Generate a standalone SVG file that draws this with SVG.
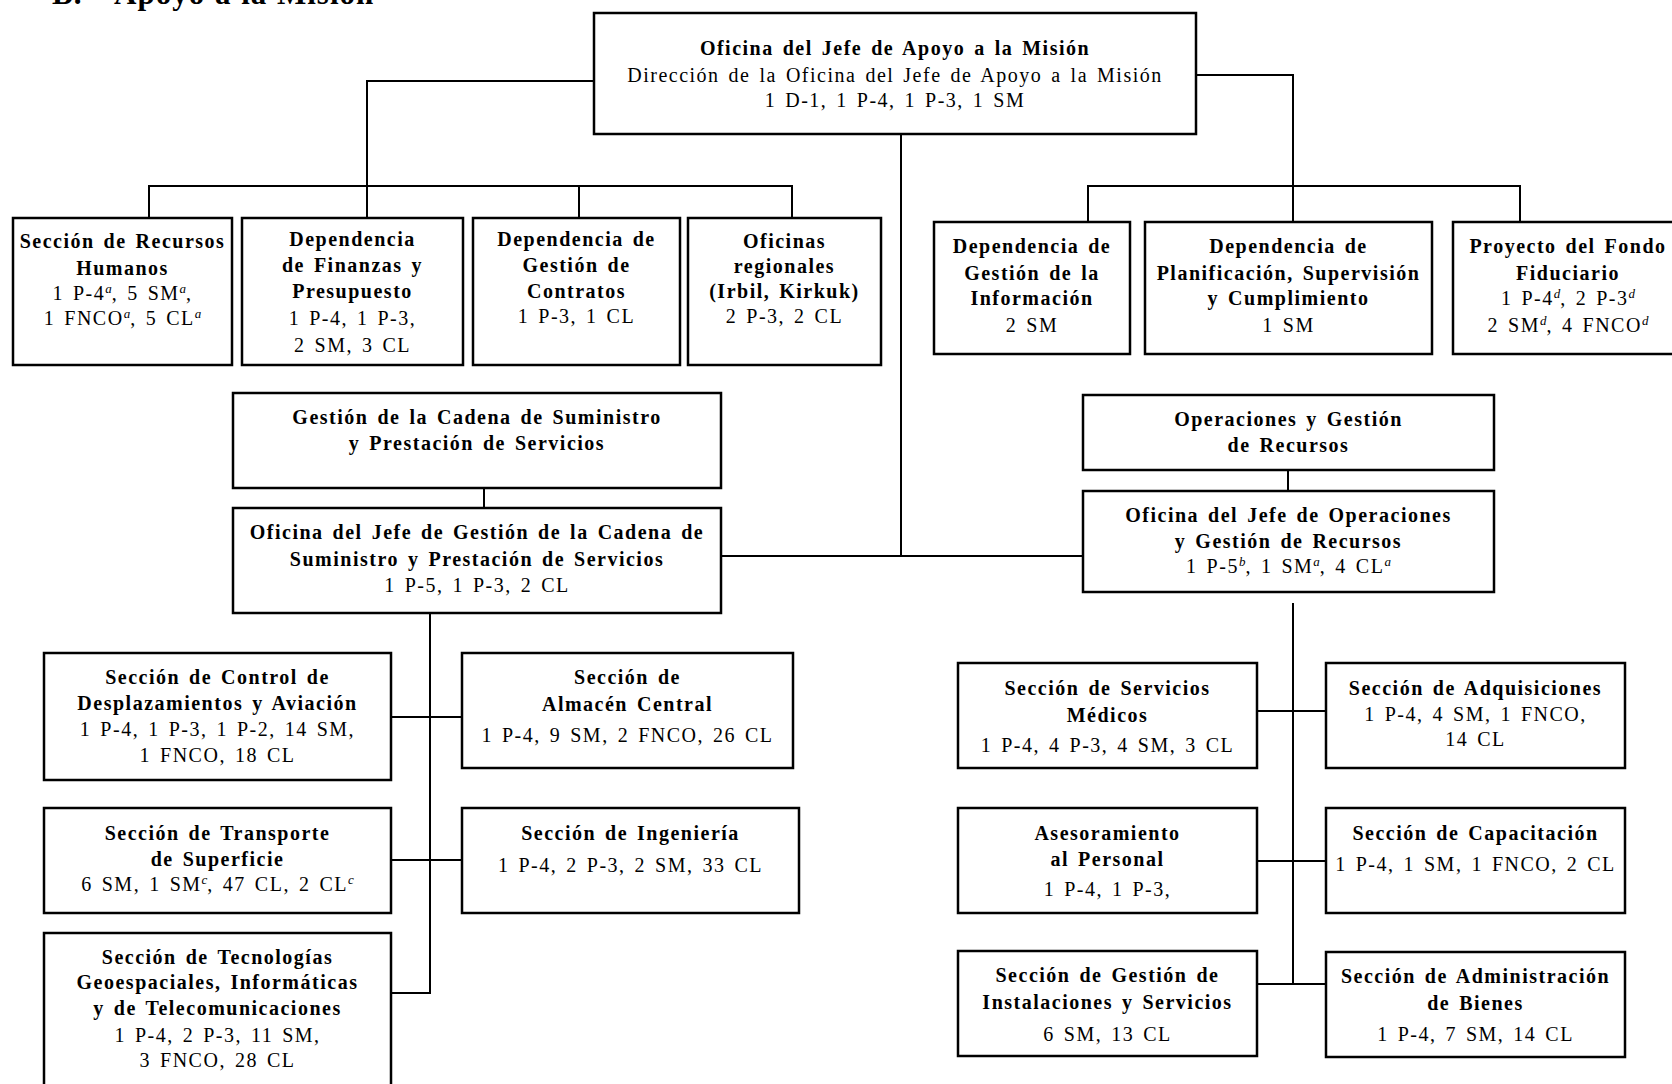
<svg xmlns="http://www.w3.org/2000/svg" width="1672" height="1084" viewBox="0 0 1672 1084">
<style>
text{font-family:"Liberation Serif","Times New Roman",serif;font-size:20px;letter-spacing:1.5px;word-spacing:2.5px;fill:#000;text-anchor:middle}
.b{font-weight:bold}
.t{font-weight:bold;font-size:31px;letter-spacing:1px;word-spacing:1px;text-anchor:start}
.s{font-style:italic;font-size:13px;letter-spacing:0}
rect{fill:#fff;stroke:#000;stroke-width:2.5}
#connectors path{fill:none;stroke:#000;stroke-width:2}
</style>
<rect x="0" y="0" width="1672" height="1084" style="stroke:none"/>
<g id="title">
<text class="t" x="52" y="4">B.</text>
<text class="t" x="114" y="4">Apoyo a la Misión</text>
</g>

<g id="connectors">
<path d="M594,81 H367 V218"/>
<path d="M149,218 V186 H792 V218"/>
<path d="M579,186 V218"/>
<path d="M1196,75 H1293 V222"/>
<path d="M1088,222 V186 H1520 V222"/>
<path d="M901,134 V556"/>
<path d="M721,556 H1083"/>
<path d="M484,488 V508"/>
<path d="M430,613 V993 H391"/>
<path d="M391,717 H462"/>
<path d="M391,860 H462"/>
<path d="M1288,470 V491"/>
<path d="M1293,603 V984"/>
<path d="M1257,711 H1326"/>
<path d="M1257,861 H1326"/>
<path d="M1257,984 H1326"/>
</g>

<g id="n-jefe-apoyo">
<rect x="594" y="13" width="602" height="121"/>
<text class="b" x="895" y="55">Oficina del Jefe de Apoyo a la Misión</text>
<text x="895" y="82">Dirección de la Oficina del Jefe de Apoyo a la Misión</text>
<text x="895" y="107">1 D-1, 1 P-4, 1 P-3, 1 SM</text>
</g>

<g id="n-rrhh">
<rect x="13" y="218" width="219" height="147"/>
<text class="b" x="122.5" y="248">Sección de Recursos</text>
<text class="b" x="122.5" y="275">Humanos</text>
<text x="122.5" y="300">1 P-4<tspan class="s" dy="-7">a</tspan><tspan dy="7">, 5 SM</tspan><tspan class="s" dy="-7">a</tspan><tspan dy="7">,</tspan></text>
<text x="122.5" y="325">1 FNCO<tspan class="s" dy="-7">a</tspan><tspan dy="7">, 5 CL</tspan><tspan class="s" dy="-7">a</tspan></text>
</g>

<g id="n-finanzas">
<rect x="242" y="218" width="221" height="147"/>
<text class="b" x="352.5" y="246">Dependencia</text>
<text class="b" x="352.5" y="272">de Finanzas y</text>
<text class="b" x="352.5" y="298">Presupuesto</text>
<text x="352.5" y="325">1 P-4, 1 P-3,</text>
<text x="352.5" y="352">2 SM, 3 CL</text>
</g>

<g id="n-contratos">
<rect x="473" y="218" width="207" height="147"/>
<text class="b" x="576.5" y="246">Dependencia de</text>
<text class="b" x="576.5" y="272">Gestión de</text>
<text class="b" x="576.5" y="298">Contratos</text>
<text x="576.5" y="323">1 P-3, 1 CL</text>
</g>

<g id="n-regionales">
<rect x="688" y="218" width="193" height="147"/>
<text class="b" x="784.5" y="248">Oficinas</text>
<text class="b" x="784.5" y="273">regionales</text>
<text class="b" x="784.5" y="298">(Irbil, Kirkuk)</text>
<text x="784.5" y="323">2 P-3, 2 CL</text>
</g>

<g id="n-informacion">
<rect x="934" y="222" width="196" height="132"/>
<text class="b" x="1032" y="253">Dependencia de</text>
<text class="b" x="1032" y="280">Gestión de la</text>
<text class="b" x="1032" y="305">Información</text>
<text x="1032" y="332">2 SM</text>
</g>

<g id="n-planificacion">
<rect x="1145" y="222" width="287" height="132"/>
<text class="b" x="1288.5" y="253">Dependencia de</text>
<text class="b" x="1288.5" y="280">Planificación, Supervisión</text>
<text class="b" x="1288.5" y="305">y Cumplimiento</text>
<text x="1288.5" y="332">1 SM</text>
</g>

<g id="n-fondo">
<rect x="1453" y="222" width="230" height="132"/>
<text class="b" x="1568" y="253">Proyecto del Fondo</text>
<text class="b" x="1568" y="280">Fiduciario</text>
<text x="1568" y="305">1 P-4<tspan class="s" dy="-7">d</tspan><tspan dy="7">, 2 P-3</tspan><tspan class="s" dy="-7">d</tspan></text>
<text x="1568" y="332">2 SM<tspan class="s" dy="-7">d</tspan><tspan dy="7">, 4 FNCO</tspan><tspan class="s" dy="-7">d</tspan></text>
</g>

<g id="n-cadena">
<rect x="233" y="393" width="488" height="95"/>
<text class="b" x="477" y="424">Gestión de la Cadena de Suministro</text>
<text class="b" x="477" y="450">y Prestación de Servicios</text>
</g>

<g id="n-jefe-cadena">
<rect x="233" y="508" width="488" height="105"/>
<text class="b" x="477" y="539">Oficina del Jefe de Gestión de la Cadena de</text>
<text class="b" x="477" y="566">Suministro y Prestación de Servicios</text>
<text x="477" y="592">1 P-5, 1 P-3, 2 CL</text>
</g>

<g id="n-control">
<rect x="44" y="653" width="347" height="127"/>
<text class="b" x="217.5" y="684">Sección de Control de</text>
<text class="b" x="217.5" y="710">Desplazamientos y Aviación</text>
<text x="217.5" y="736">1 P-4, 1 P-3, 1 P-2, 14 SM,</text>
<text x="217.5" y="762">1 FNCO, 18 CL</text>
</g>

<g id="n-almacen">
<rect x="462" y="653" width="331" height="115"/>
<text class="b" x="627.5" y="684">Sección de</text>
<text class="b" x="627.5" y="711">Almacén Central</text>
<text x="627.5" y="742">1 P-4, 9 SM, 2 FNCO, 26 CL</text>
</g>

<g id="n-transporte">
<rect x="44" y="808" width="347" height="105"/>
<text class="b" x="217.5" y="840">Sección de Transporte</text>
<text class="b" x="217.5" y="866">de Superficie</text>
<text x="217.5" y="891">6 SM, 1 SM<tspan class="s" dy="-7">c</tspan><tspan dy="7">, 47 CL, 2 CL</tspan><tspan class="s" dy="-7">c</tspan></text>
</g>

<g id="n-ingenieria">
<rect x="462" y="808" width="337" height="105"/>
<text class="b" x="630.5" y="840">Sección de Ingeniería</text>
<text x="630.5" y="872">1 P-4, 2 P-3, 2 SM, 33 CL</text>
</g>

<g id="n-tic">
<rect x="44" y="933" width="347" height="170"/>
<text class="b" x="217.5" y="964">Sección de Tecnologías</text>
<text class="b" x="217.5" y="989">Geoespaciales, Informáticas</text>
<text class="b" x="217.5" y="1015">y de Telecomunicaciones</text>
<text x="217.5" y="1042">1 P-4, 2 P-3, 11 SM,</text>
<text x="217.5" y="1067">3 FNCO, 28 CL</text>
</g>

<g id="n-operaciones">
<rect x="1083" y="395" width="411" height="75"/>
<text class="b" x="1288.5" y="426">Operaciones y Gestión</text>
<text class="b" x="1288.5" y="452">de Recursos</text>
</g>

<g id="n-jefe-operaciones">
<rect x="1083" y="491" width="411" height="101"/>
<text class="b" x="1288.5" y="522">Oficina del Jefe de Operaciones</text>
<text class="b" x="1288.5" y="548">y Gestión de Recursos</text>
<text x="1288.5" y="573">1 P-5<tspan class="s" dy="-7">b</tspan><tspan dy="7">, 1 SM</tspan><tspan class="s" dy="-7">a</tspan><tspan dy="7">, 4 CL</tspan><tspan class="s" dy="-7">a</tspan></text>
</g>

<g id="n-medicos">
<rect x="958" y="663" width="299" height="105"/>
<text class="b" x="1107.5" y="695">Sección de Servicios</text>
<text class="b" x="1107.5" y="722">Médicos</text>
<text x="1107.5" y="752">1 P-4, 4 P-3, 4 SM, 3 CL</text>
</g>

<g id="n-adquisiciones">
<rect x="1326" y="663" width="299" height="105"/>
<text class="b" x="1475.5" y="695">Sección de Adquisiciones</text>
<text x="1475.5" y="721">1 P-4, 4 SM, 1 FNCO,</text>
<text x="1475.5" y="746">14 CL</text>
</g>

<g id="n-asesoramiento">
<rect x="958" y="808" width="299" height="105"/>
<text class="b" x="1107.5" y="840">Asesoramiento</text>
<text class="b" x="1107.5" y="866">al Personal</text>
<text x="1107.5" y="896">1 P-4, 1 P-3,</text>
</g>

<g id="n-capacitacion">
<rect x="1326" y="808" width="299" height="105"/>
<text class="b" x="1475.5" y="840">Sección de Capacitación</text>
<text x="1475.5" y="871">1 P-4, 1 SM, 1 FNCO, 2 CL</text>
</g>

<g id="n-instalaciones">
<rect x="958" y="951" width="299" height="105"/>
<text class="b" x="1107.5" y="982">Sección de Gestión de</text>
<text class="b" x="1107.5" y="1009">Instalaciones y Servicios</text>
<text x="1107.5" y="1041">6 SM, 13 CL</text>
</g>

<g id="n-bienes">
<rect x="1326" y="952" width="299" height="105"/>
<text class="b" x="1475.5" y="983">Sección de Administración</text>
<text class="b" x="1475.5" y="1010">de Bienes</text>
<text x="1475.5" y="1041">1 P-4, 7 SM, 14 CL</text>
</g>
</svg>
